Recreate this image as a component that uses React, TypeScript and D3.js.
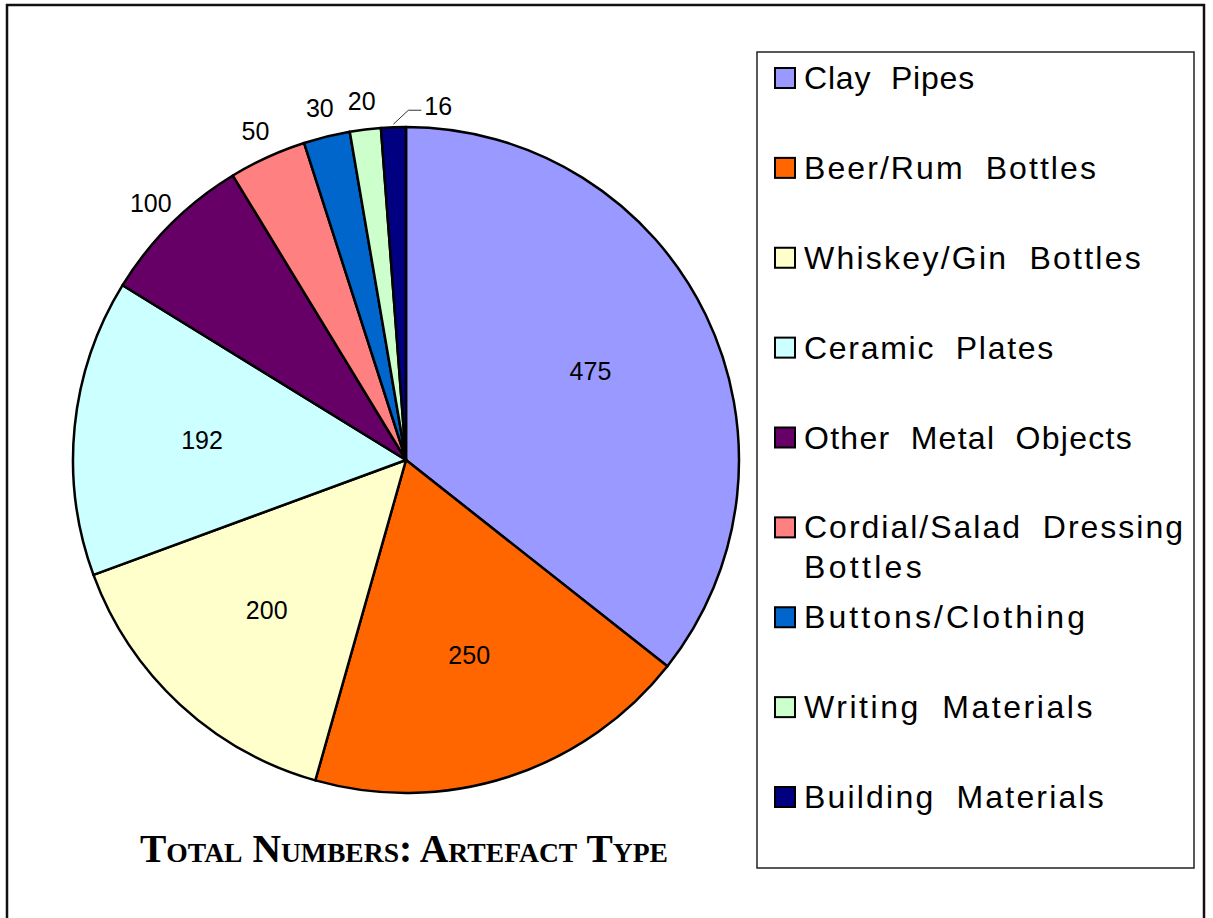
import React, { useEffect, useRef } from "react";
import * as d3 from "d3";

// values
const categories = [
  "Clay Pipes",
  "Beer/Rum Bottles",
  "Whiskey/Gin Bottles",
  "Ceramic Plates",
  "Other Metal Objects",
  "Cordial/Salad Dressing Bottles",
  "Buttons/Clothing",
  "Writing Materials",
  "Building Materials",
];
const counts = [475, 250, 200, 192, 100, 50, 30, 20, 16];
const colors = [
  "#9999FF",
  "#FF6600",
  "#FFFFCC",
  "#CCFFFF",
  "#660066",
  "#FF8080",
  "#0066CC",
  "#CCFFCC",
  "#000080",
];
const title = "Total Numbers: Artefact Type";

// legend lines are stretched to these widths (px) like the justified text in the original
const legendLineWidths: Record<string, number> = {
  "Clay Pipes": 171,
  "Beer/Rum Bottles": 294,
  "Whiskey/Gin Bottles": 339,
  "Ceramic Plates": 251,
  "Other Metal Objects": 329,
  "Cordial/Salad Dressing": 381,
  Bottles: 121,
  "Buttons/Clothing": 284,
  "Writing Materials": 291,
  "Building Materials": 302,
};

const W = 1213;
const H = 918;

const App = () => {
  const ref = useRef<SVGSVGElement>(null);

  useEffect(() => {
    const svg = d3.select(ref.current);
    svg.selectAll("*").remove();

    // outer frame
    svg
      .append("rect")
      .attr("x", 7)
      .attr("y", 5)
      .attr("width", 1197)
      .attr("height", 940)
      .attr("fill", "white")
      .attr("stroke", "#111")
      .attr("stroke-width", 2.5);

    const cx = 406;
    const cy = 460;
    const r = 333;

    const data = categories.map((c, i) => ({ name: c, value: counts[i], color: colors[i] }));

    // starts at 12 o'clock, clockwise, no sorting
    const pie = d3
      .pie<any>()
      .sort(null)
      .value((d) => d.value);
    const arcs = pie(data);

    const arc = d3.arc<any>().innerRadius(0).outerRadius(r);
    const inLabel = d3.arc<any>().innerRadius(205).outerRadius(205);
    const outLabel = d3.arc<any>().innerRadius(362).outerRadius(362);

    const g = svg.append("g").attr("transform", `translate(${cx},${cy})`);

    g.selectAll("path")
      .data(arcs)
      .join("path")
      .attr("d", arc)
      .attr("fill", (d) => d.data.color)
      .attr("stroke", "#000")
      .attr("stroke-width", 2.5)
      .attr("stroke-linejoin", "round");

    const big = (d: any) => d.value >= 150;

    // labels
    g.selectAll("text.lbl")
      .data(arcs.filter((d) => d.data.value > 16))
      .join("text")
      .attr("class", "lbl")
      .attr("transform", (d) => `translate(${(big(d) ? inLabel : outLabel).centroid(d)})`)
      .attr("text-anchor", "middle")
      .attr("dominant-baseline", "central")
      .attr("font-family", "'Liberation Sans', Arial, sans-serif")
      .attr("font-size", 25)
      .attr("fill", "#000")
      .text((d) => d.data.value);

    // the smallest slice gets a leader line
    const small = arcs[arcs.length - 1];
    const [sx, sy] = d3.arc<any>().innerRadius(r + 3).outerRadius(r + 3).centroid(small);
    const ex = sx + 15;
    const ey = sy - 14;
    g.append("polyline")
      .attr("points", `${sx},${sy} ${ex},${ey} ${ex + 13},${ey}`)
      .attr("fill", "none")
      .attr("stroke", "#333")
      .attr("stroke-width", 1);
    g.append("text")
      .attr("x", ex + 16)
      .attr("y", ey - 4)
      .attr("dominant-baseline", "central")
      .attr("font-family", "'Liberation Sans', Arial, sans-serif")
      .attr("font-size", 25)
      .text(small.data.value);

    // title
    svg
      .append("text")
      .attr("x", 404)
      .attr("y", 862)
      .attr("text-anchor", "middle")
      .attr("font-family", "'Liberation Serif', 'DejaVu Serif', serif")
      .attr("font-weight", "bold")
      .attr("font-variant", "small-caps")
      .attr("font-size", 40)
      .attr("textLength", 528)
      .attr("lengthAdjust", "spacingAndGlyphs")
      .text(title);

    // legend
    const lg = svg.append("g");
    lg.append("rect")
      .attr("x", 757)
      .attr("y", 52)
      .attr("width", 437)
      .attr("height", 816)
      .attr("fill", "white")
      .attr("stroke", "#222")
      .attr("stroke-width", 1.5);

    const rowY = d3.scalePoint<string>().domain(categories).range([78, 797]);

    const rows = lg
      .selectAll("g.row")
      .data(data)
      .join("g")
      .attr("class", "row")
      .attr("transform", (d) => `translate(775,${rowY(d.name)})`);

    rows
      .append("rect")
      .attr("x", 0)
      .attr("y", -10)
      .attr("width", 20)
      .attr("height", 20)
      .attr("fill", (d) => d.color)
      .attr("stroke", "#000")
      .attr("stroke-width", 2);

    const stretch = (t: d3.Selection<SVGTextElement, unknown, null, undefined>, line: string) => {
      const target = legendLineWidths[line];
      const node = t.node();
      if (!node || !target) return;
      const natural = node.getComputedTextLength();
      const n = line.length;
      t.attr("letter-spacing", Math.max(0, (target - natural) / n));
    };

    rows.each(function (d) {
      const lines = d.name.startsWith("Cordial")
        ? ["Cordial/Salad Dressing", "Bottles"]
        : [d.name];
      lines.forEach((line, i) => {
        const t = d3
          .select(this)
          .append("text")
          .attr("x", 29)
          .attr("y", 11 + i * 40)
          .attr("font-family", "'Liberation Sans', Arial, sans-serif")
          .attr("font-size", 32)
          .attr("word-spacing", 10)
          .attr("fill", "#000")
          .text(line);
        stretch(t as any, line);
      });
    });
  }, []);

  return (
    <svg
      ref={ref}
      width={W}
      height={H}
      style={{ position: "absolute", left: 0, top: 0, background: "white" }}
    />
  );
};

export default App;
